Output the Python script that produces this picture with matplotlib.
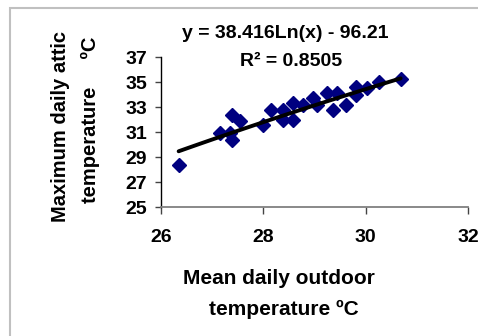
import numpy as np
import matplotlib
matplotlib.use("Agg")
import matplotlib.pyplot as plt
from matplotlib.patches import Rectangle

# Data
mean_outdoor = [26.35, 27.16, 27.36, 27.39, 27.39, 27.55, 28.00, 28.16, 28.39, 28.39,
                28.58, 28.58, 28.78, 28.98, 29.05, 29.24, 29.37, 29.44, 29.62, 29.81,
                29.80, 30.02, 30.25, 30.68]
max_attic = [28.4, 30.9, 30.9, 30.4, 32.4, 31.9, 31.6, 32.8, 32.0, 32.8,
             32.0, 33.3, 33.2, 33.7, 33.2, 34.1, 32.8, 34.1, 33.2, 34.0,
             34.6, 34.5, 35.0, 35.3]
# Logarithmic trendline coefficients shown on the chart
trend_a = 38.416
trend_b = -96.21
trend_label = "y = 38.416Ln(x) - 96.21"
r2_label = "R² = 0.8505"
x_ticks = [26, 28, 30, 32]
y_ticks = [25, 27, 29, 31, 33, 35, 37]

W, H = 478, 336
fig = plt.figure(figsize=(W / 100, H / 100), dpi=100)
fig.patch.set_facecolor("white")
font = "Liberation Sans"

# chart border
fig.patches.append(Rectangle((10 / W, -0.1), 1.2, 1 - 8 / H + 0.1, transform=fig.transFigure,
                             fill=False, edgecolor="#c0c0c0", linewidth=1.5))

ax = fig.add_axes([160.7 / W, 1 - 207 / H, (468.3 - 160.7) / W, (207 - 57.3) / H])
ax.set_xlim(26, 32)
ax.set_ylim(25, 37)

ax.plot(mean_outdoor, max_attic, linestyle="none", marker="D", markersize=7,
        markerfacecolor="#000080", markeredgecolor="#000080", zorder=2)

xs = np.linspace(min(mean_outdoor), max(mean_outdoor), 100)
ax.plot(xs, trend_a * np.log(xs) + trend_b, color="black", linewidth=2.8, zorder=3,
        solid_capstyle="round")

for s in ["top", "right"]:
    ax.spines[s].set_visible(False)
ax.spines["left"].set_color("black")
ax.spines["bottom"].set_color("#808080")
ax.spines["left"].set_linewidth(1.0)
ax.spines["bottom"].set_linewidth(1.3)

ax.set_xticks(x_ticks)
ax.set_yticks(y_ticks)
ax.tick_params(axis="y", direction="out", length=4, width=1, pad=6, color="#444444")
ax.tick_params(axis="x", direction="out", length=4.8, width=1, pad=11, color="#444444")
for lab in ax.get_xticklabels() + ax.get_yticklabels():
    lab.set_fontfamily(font)
    lab.set_fontweight("bold")
    lab.set_fontsize(14)

# trendline equation
fig.text(285 / W, 1 - 34 / H, trend_label, ha="center", va="center",
         fontsize=14, fontweight="bold", family=font)
fig.text(291 / W, 1 - 62 / H, r2_label, ha="center", va="center",
         fontsize=14, fontweight="bold", family=font)

# axis titles
fig.text(279 / W, 1 - 279 / H, "Mean daily outdoor", ha="center", va="center",
         fontsize=15, fontweight="bold", family=font)
fig.text(283.5 / W, 1 - 309 / H, "temperature ºC", ha="center", va="center",
         fontsize=15, fontweight="bold", family=font)
fig.text(61 / W, 1 - 126 / H, "Maximum daily attic", ha="center", va="center",
         rotation=90, fontsize=14.5, fontweight="bold", family=font)
fig.text(90 / W, 1 - 120 / H, "temperature     ºC", ha="center", va="center",
         rotation=90, fontsize=14.5, fontweight="bold", family=font)

fig.savefig("out.png", dpi=100)
